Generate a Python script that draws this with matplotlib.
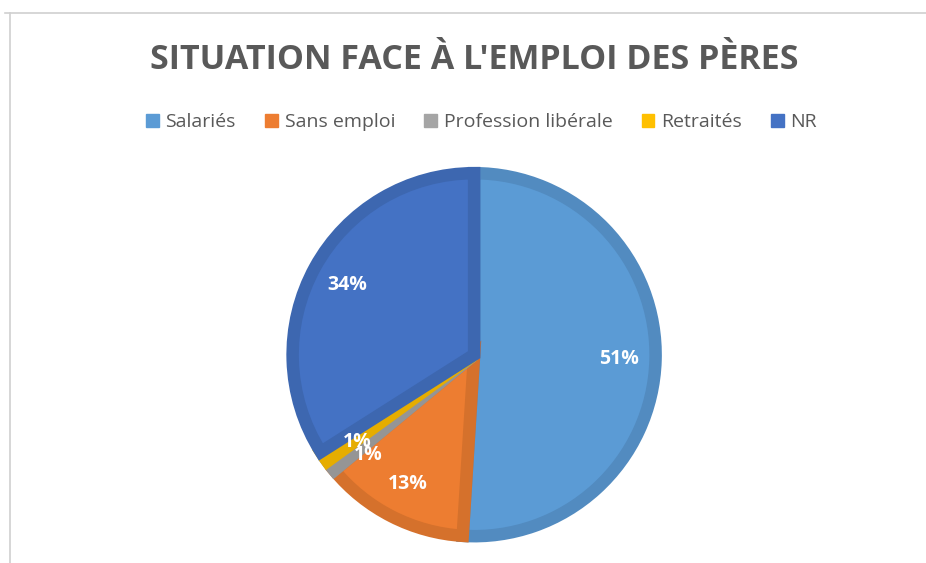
import matplotlib.pyplot as plt
from matplotlib.lines import Line2D
from matplotlib.colors import to_rgb

labels = ['Salariés', 'Sans emploi', 'Profession libérale', 'Retraités', 'NR']
values = [51, 13, 1, 1, 34]
colors = ['#5B9BD5', '#ED7D31', '#A5A5A5', '#FFC000', '#4472C4']


def darker(c, f=0.9):
    r, g, b = to_rgb(c)
    return (r * f, g * f, b * f)


plt.rcParams['font.family'] = ['Open Sans', 'DejaVu Sans']

fig = plt.figure(figsize=(9.26, 5.63), dpi=100)
ax = fig.add_axes([0.0, 0.02, 1.0, 0.7])

wedges, texts, autotexts = ax.pie(
    values, colors=colors, startangle=90, counterclock=False,
    radius=0.98, autopct='%1.0f%%', pctdistance=0.8,
    wedgeprops=dict(linewidth=9, joinstyle='miter'),
    textprops=dict(color='white', fontsize=14, fontweight='bold'))
for w, c in zip(wedges, colors):
    w.set_edgecolor(darker(c))
ax.set_aspect('equal')
ax.set_xlim(-2.56, 2.44)
ax.set_ylim(-1.02, 1.02)

# small slices labels sit close together like the original
autotexts[2].set_position((-0.57, -0.54))
autotexts[3].set_position((-0.63, -0.47))

fig.text(0.512, 0.893, "SITUATION FACE À L'EMPLOI DES PÈRES", ha='center', va='center',
         fontsize=24.5, fontweight='bold', color='#595959')

handles = [plt.Rectangle((0, 0), 1, 1, color=c) for c in colors]
fig.legend(handles, labels, loc='center', bbox_to_anchor=(0.52, 0.783), ncol=5,
           frameon=False, fontsize=14, handlelength=0.65, handleheight=0.65,
           handletextpad=0.35, columnspacing=1.5, labelcolor='#595959')

fig.add_artist(Line2D([5 / 926, 1], [1 - 13 / 563, 1 - 13 / 563], color='#d0d0d0', lw=1.2))
fig.add_artist(Line2D([10 / 926, 10 / 926], [0, 1 - 13 / 563], color='#d0d0d0', lw=1.2))

fig.savefig('out.png', dpi=100)
